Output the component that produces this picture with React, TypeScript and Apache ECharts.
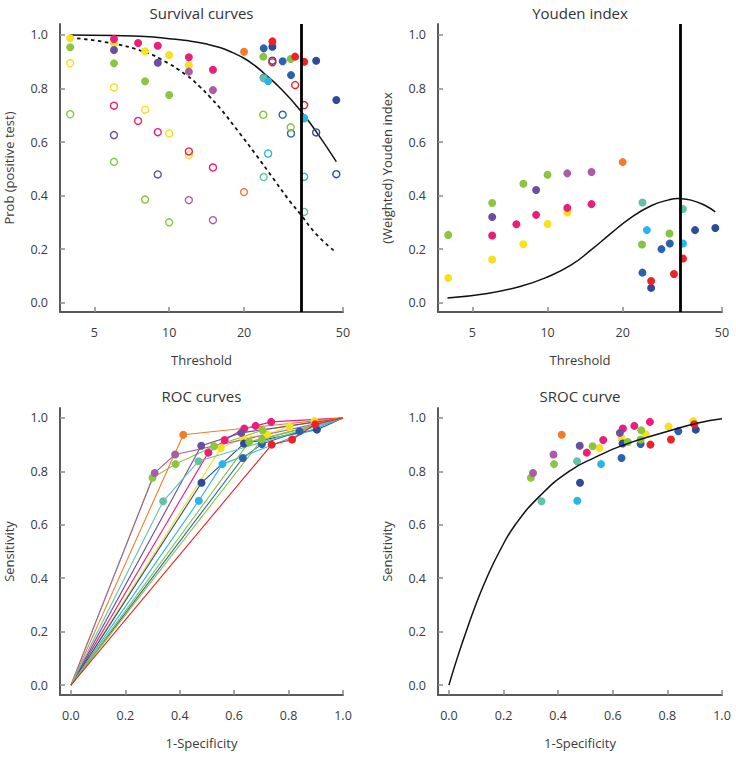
import React, { useEffect, useRef } from "react";
import * as echarts from "echarts";

const FONT = '"Open Sans", "Noto Sans", sans-serif';
const TEXT = "#3a3a3a";
const AXIS = "#5a5a5a";
const TICK = "#8a8a8a";

const panelTitles = ["Survival curves", "Youden index", "ROC curves", "SROC curve"];
const xAxisNames = ["Threshold", "Threshold", "1-Specificity", "1-Specificity"];
const yAxisNames = ["Prob (positive test)", "(Weighted) Youden index", "Sensitivity", "Sensitivity"];

const thresholdRange = [3.64, 50];
const thresholdTicks = [5, 10, 20, 50];
const probTicks = [0, 0.2, 0.4, 0.6, 0.8, 1.0];
const probRange = [-0.035, 1.041];
const rateTicks = [0, 0.2, 0.4, 0.6, 0.8, 1.0];
const rateRange = [-0.04, 1.0];
const sensRange = [-0.037, 1.037];

// studies: yellow, lime, magenta, purple, orchid, orange, navy, blue, teal, cyan, green, green, red
const studyColors = [
  "#F7E01E", "#8CC63F", "#EB1E79", "#6A4FA0", "#A95CA9", "#F47B2A",
  "#2E4A9A", "#2A62AE", "#62C2A8", "#29B5EA", "#86C440", "#86C440", "#EC2227",
];
const studyThresholds = [
  [4, 6, 8, 10, 12],
  [4, 6, 8, 10],
  [6, 7.5, 9, 12, 15],
  [6, 9],
  [12, 15],
  [20],
  [26, 39, 47],
  [24, 28.6, 30.9],
  [24, 34.9],
  [25, 34.9],
  [30.8],
  [23.9],
  [26, 32.1, 34.9],
];
const studySensitivity = [
  [0.988, 0.968, 0.939, 0.925, 0.887],
  [0.954, 0.894, 0.827, 0.776],
  [0.985, 0.970, 0.960, 0.917, 0.870],
  [0.944, 0.896],
  [0.863, 0.794],
  [0.937],
  [0.956, 0.904, 0.757],
  [0.950, 0.902, 0.850],
  [0.838, 0.688],
  [0.827, 0.690],
  [0.910],
  [0.919],
  [0.976, 0.919, 0.900],
];
const studyFalsePositive = [
  [0.895, 0.804, 0.721, 0.632, 0.551],
  [0.704, 0.526, 0.385, 0.300],
  [0.736, 0.679, 0.637, 0.565, 0.505],
  [0.626, 0.479],
  [0.383, 0.308],
  [0.413],
  [0.904, 0.636, 0.480],
  [0.840, 0.702, 0.632],
  [0.469, 0.339],
  [0.557, 0.470],
  [0.655],
  [0.702],
  [0.898, 0.813, 0.738],
];
const studyYouden = [
  [0.092, 0.161, 0.218, 0.294, 0.337],
  [0.253, 0.372, 0.444, 0.478],
  [0.251, 0.293, 0.328, 0.354, 0.368],
  [0.320, 0.421],
  [0.483, 0.488],
  [0.525],
  [0.055, 0.271, 0.279],
  [0.112, 0.200, 0.221],
  [0.374, 0.350],
  [0.271, 0.221],
  [0.258],
  [0.217],
  [0.081, 0.107, 0.165],
];

const sensCurveThreshold = [4, 6, 8, 10, 12, 14, 16, 18, 20, 22, 24, 28, 33.5, 39, 47];
const sensCurveProb = [1.0, 0.998, 0.994, 0.986, 0.978, 0.967, 0.953, 0.934, 0.913, 0.887, 0.858, 0.801, 0.721, 0.639, 0.527];
const fprCurveThreshold = [4, 5.8, 7.9, 9.2, 11.7, 13.3, 14.6, 16, 19.2, 22.4, 26.2, 30.5, 33.5, 39, 46.3];
const fprCurveProb = [0.990, 0.970, 0.938, 0.911, 0.851, 0.806, 0.768, 0.727, 0.633, 0.551, 0.464, 0.380, 0.334, 0.256, 0.192];
const youdenCurveThreshold = [3.97, 5.74, 7.82, 10, 12.4, 14.9, 17.9, 21.6, 26.0, 30.4, 33.3, 37.6, 42.6, 47];
const youdenCurveValue = [0.017, 0.034, 0.061, 0.096, 0.14, 0.196, 0.258, 0.318, 0.362, 0.383, 0.389, 0.383, 0.364, 0.339];
const srocFpr = [0, 0.03, 0.063, 0.098, 0.138, 0.185, 0.243, 0.336, 0.44, 0.535, 0.643, 0.802, 0.912, 1.0];
const srocSens = [0, 0.1, 0.2, 0.3, 0.4, 0.5, 0.6, 0.711, 0.8, 0.852, 0.9, 0.95, 0.981, 0.997];
const optimalThreshold = 33.5;

const grids = [
  { left: 60, top: 24, width: 283, height: 288 },
  { left: 438, top: 24, width: 284, height: 288 },
  { left: 60, top: 408, width: 283, height: 287 },
  { left: 438, top: 408, width: 284, height: 287 },
];
const titleCenters = [
  [201.5, 5],
  [580, 5],
  [201.5, 388.5],
  [580, 388.5],
];

const lg = (t: number) => Math.log10(t);

function makeAxis(kind: "x" | "y", idx: number, name: string, min: number, max: number, ticks: number[], fmt: (v: number) => string) {
  return {
    type: "value",
    gridIndex: idx,
    min,
    max,
    name,
    nameLocation: "middle",
    nameGap: kind === "x" ? 41 : 45,
    nameMoveOverlap: false,
    nameTextStyle: { fontFamily: FONT, fontSize: 13, color: TEXT },
    axisLine: { show: true, onZero: false, lineStyle: { color: AXIS, width: 2 } },
    axisTick: { show: true, inside: true, length: 5, customValues: ticks, lineStyle: { color: TICK, width: 1.5 } },
    axisLabel: {
      show: true,
      customValues: ticks,
      formatter: fmt,
      margin: kind === "x" ? 14 : 12,
      fontFamily: FONT,
      fontSize: 12.5,
      color: TEXT,
    },
    splitLine: { show: false },
  };
}

function buildOption() {
  const tFmt = (v: number) => String(Math.round(Math.pow(10, v)));
  const pFmt = (v: number) => v.toFixed(1);
  const tTicks = thresholdTicks.map(lg);

  const xAxis = [
    makeAxis("x", 0, xAxisNames[0], lg(thresholdRange[0]), lg(thresholdRange[1]), tTicks, tFmt),
    makeAxis("x", 1, xAxisNames[1], lg(thresholdRange[0]), lg(thresholdRange[1]), tTicks, tFmt),
    makeAxis("x", 2, xAxisNames[2], rateRange[0], rateRange[1], rateTicks, pFmt),
    makeAxis("x", 3, xAxisNames[3], rateRange[0], rateRange[1], rateTicks, pFmt),
  ];
  const yAxis = [
    makeAxis("y", 0, yAxisNames[0], probRange[0], probRange[1], probTicks, pFmt),
    makeAxis("y", 1, yAxisNames[1], probRange[0], probRange[1], probTicks, pFmt),
    makeAxis("y", 2, yAxisNames[2], sensRange[0], sensRange[1], probTicks, pFmt),
    makeAxis("y", 3, yAxisNames[3], sensRange[0], sensRange[1], probTicks, pFmt),
  ];

  const series: any[] = [];
  const curveStyle = { color: "#111", width: 1.5 };
  const smoothOpts = { smooth: 0.5 };

  // Survival curves
  series.push({
    name: "Sensitivity curve", type: "line", xAxisIndex: 0, yAxisIndex: 0, silent: true,
    data: sensCurveThreshold.map((t, i) => [lg(t), sensCurveProb[i]]),
    ...smoothOpts, showSymbol: false, symbol: "none", lineStyle: curveStyle, z: 2,
  });
  series.push({
    name: "1-Specificity curve", type: "line", xAxisIndex: 0, yAxisIndex: 0, silent: true,
    data: fprCurveThreshold.map((t, i) => [lg(t), fprCurveProb[i]]),
    ...smoothOpts, showSymbol: false, symbol: "none", lineStyle: { color: "#111", width: 1.8, type: [3.5, 3.5] }, z: 2,
  });
  // Youden curve
  series.push({
    name: "Youden curve", type: "line", xAxisIndex: 1, yAxisIndex: 1, silent: true,
    data: youdenCurveThreshold.map((t, i) => [lg(t), youdenCurveValue[i]]),
    ...smoothOpts, showSymbol: false, symbol: "none", lineStyle: curveStyle, z: 2,
  });

  // ROC lines
  studyColors.forEach((c, i) => {
    const pts = studyFalsePositive[i].map((f, j) => [f, studySensitivity[i][j]]).sort((a, b) => a[0] - b[0]);
    series.push({
      name: "ROC " + (i + 1), type: "line", xAxisIndex: 2, yAxisIndex: 2, silent: true,
      data: [[0, 0], ...pts, [1, 1]], showSymbol: false, symbol: "none",
      lineStyle: { color: c, width: 1.1 }, z: 2,
    });
  });

  studyColors.forEach((c, i) => {
    const ts = studyThresholds[i];
    series.push({
      name: "Sens " + (i + 1), type: "scatter", xAxisIndex: 0, yAxisIndex: 0, silent: true,
      data: ts.map((t, j) => [lg(t), studySensitivity[i][j]]),
      symbol: "circle", symbolSize: 8, itemStyle: { color: c, opacity: 1 }, z: 3,
    });
    series.push({
      name: "FPR " + (i + 1), type: "scatter", xAxisIndex: 0, yAxisIndex: 0, silent: true,
      data: ts.map((t, j) => [lg(t), studyFalsePositive[i][j]]),
      symbol: "circle", symbolSize: 7, itemStyle: { color: "rgba(255,255,255,0)", borderColor: c, borderWidth: 1.4, opacity: 1 }, z: 3,
    });
    series.push({
      name: "Youden " + (i + 1), type: "scatter", xAxisIndex: 1, yAxisIndex: 1, silent: true,
      data: ts.map((t, j) => [lg(t), studyYouden[i][j]]),
      symbol: "circle", symbolSize: 8, itemStyle: { color: c, opacity: 1 }, z: 3,
    });
    series.push({
      name: "ROC pts " + (i + 1), type: "scatter", xAxisIndex: 2, yAxisIndex: 2, silent: true,
      data: studyFalsePositive[i].map((f, j) => [f, studySensitivity[i][j]]),
      symbol: "circle", symbolSize: 8, itemStyle: { color: c, opacity: 1 }, z: 3,
    });
    series.push({
      name: "SROC pts " + (i + 1), type: "scatter", xAxisIndex: 3, yAxisIndex: 3, silent: true,
      data: studyFalsePositive[i].map((f, j) => [f, studySensitivity[i][j]]),
      symbol: "circle", symbolSize: 8, itemStyle: { color: c, opacity: 1 }, z: 3,
    });
  });

  // SROC curve
  series.push({
    name: "SROC curve", type: "line", xAxisIndex: 3, yAxisIndex: 3, silent: true,
    data: srocFpr.map((f, i) => [f, srocSens[i]]),
    ...smoothOpts, showSymbol: false, symbol: "none", lineStyle: curveStyle, z: 4,
  });

  // Optimal threshold vertical lines
  [0, 1].forEach((k) => {
    series.push({
      name: "Optimal threshold " + (k + 1), type: "line", xAxisIndex: k, yAxisIndex: k, silent: true,
      data: [],
      markLine: {
        silent: true, symbol: ["none", "none"], label: { show: false }, animation: false,
        lineStyle: { color: "#000", width: 2.8, type: "solid" },
        data: [{ xAxis: lg(optimalThreshold) }],
      },
      z: 5,
    });
  });

  return {
    animation: false,
    backgroundColor: "#ffffff",
    title: panelTitles.map((t, i) => ({
      text: t,
      left: titleCenters[i][0],
      top: titleCenters[i][1],
      textAlign: "center",
      padding: 0,
      textStyle: { fontFamily: FONT, fontSize: 15, fontWeight: "normal", color: "#333" },
    })),
    grid: grids.map((g) => ({ ...g, containLabel: false, outerBoundsMode: "none" })),
    xAxis,
    yAxis,
    series,
  };
}

export default function App() {
  const ref = useRef<HTMLDivElement>(null);
  useEffect(() => {
    if (!ref.current) return;
    const chart = echarts.init(ref.current, null, { renderer: "svg" });
    chart.setOption(buildOption() as any);
    return () => chart.dispose();
  }, []);
  return (
    <div
      ref={ref}
      style={{ position: "absolute", left: 0, top: 0, width: 736, height: 757, background: "#fff" }}
    />
  );
}
